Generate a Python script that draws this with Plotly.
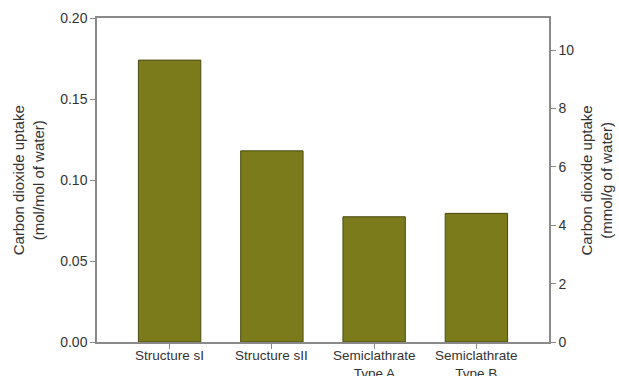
import plotly.graph_objects as go

categories = ["Structure sI", "Structure sII", "Semiclathrate<br>Type A", "Semiclathrate<br>Type B"]
uptake_mol_per_mol = [0.174, 0.118, 0.0773, 0.0794]

left_ticks = [0.00, 0.05, 0.10, 0.15, 0.20]
left_ticklabels = ["0.00", "0.05", "0.10", "0.15", "0.20"]
right_ticks = [0, 2, 4, 6, 8, 10]

bar_color = "#7b7b1c"
axis_color = "#8a8a8a"
text_color = "#333333"
font_family = "Liberation Sans, Arial, sans-serif"

fig = go.Figure()
fig.add_trace(go.Bar(
    x=list(range(len(categories))),
    y=uptake_mol_per_mol,
    width=0.61,
    marker=dict(color=bar_color, line=dict(color="#4a4a10", width=1)),
    showlegend=False,
))
# empty trace so the right-hand axis is drawn
fig.add_trace(go.Scatter(x=[None], y=[None], yaxis="y2", showlegend=False))

axis_common = dict(
    showline=True, linecolor=axis_color, linewidth=1.5,
    ticks="outside", ticklen=5, tickcolor=axis_color,
    showgrid=False, zeroline=False, automargin=False,
    tickfont=dict(size=14, color=text_color),
)

# category labels placed just under the baseline
category_labels = [
    dict(text=name, x=i, y=0, xref="x", yref="y",
         xanchor="center", yanchor="top", yshift=-4,
         showarrow=False, font=dict(size=13.5, color=text_color))
    for i, name in enumerate(categories)
]

fig.update_layout(
    width=619, height=376,
    margin=dict(l=97, r=70, t=18, b=34),
    plot_bgcolor="white", paper_bgcolor="white",
    font=dict(family=font_family, size=14, color=text_color),
    xaxis=dict(
        range=[-0.71, 3.71],
        tickvals=list(range(len(categories))),
        showticklabels=False,
        mirror=True,
        **axis_common,
    ),
    yaxis=dict(
        range=[0, 0.2],
        tickvals=left_ticks, ticktext=left_ticklabels,
        **axis_common,
    ),
    yaxis2=dict(
        overlaying="y", side="right",
        range=[0, 11.1],
        tickvals=right_ticks,
        **axis_common,
    ),
    annotations=category_labels + [
        dict(text="Carbon dioxide uptake<br>(mol/mol of water)",
             xref="paper", yref="paper", x=-0.152, y=0.5,
             xanchor="center", yanchor="middle", textangle=-90,
             showarrow=False, font=dict(size=15, color=text_color)),
        dict(text="Carbon dioxide uptake<br>(mmol/g of water)",
             xref="paper", yref="paper", x=1.105, y=0.5,
             xanchor="center", yanchor="middle", textangle=-90,
             showarrow=False, font=dict(size=15, color=text_color)),
    ],
)

fig.write_html("out.html")
